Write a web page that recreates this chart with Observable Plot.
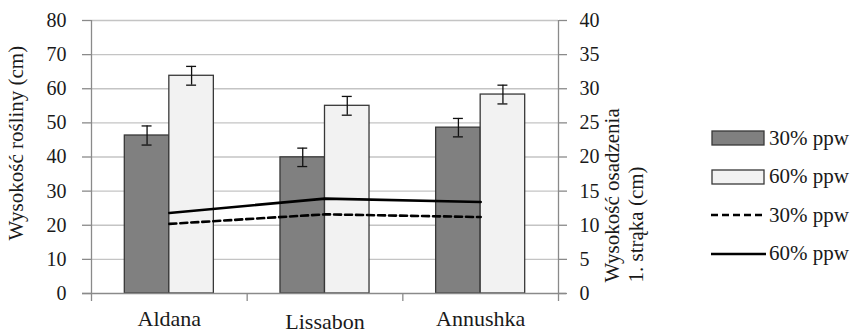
<!DOCTYPE html>
<html><head><meta charset="utf-8">
<script src="https://cdn.jsdelivr.net/npm/d3@7"></script>
<script src="https://cdn.jsdelivr.net/npm/@observablehq/plot@0.6"></script>
<style>
body{margin:0;background:#fff;font-family:"Liberation Serif","Times New Roman",Times,"DejaVu Serif",serif;}
#wrap{position:relative;width:864px;height:334px;overflow:hidden;}
#legend{position:absolute;left:711px;top:119px;}
.row{display:flex;align-items:center;height:38.5px;font-size:21px;color:#1a1a1a;white-space:nowrap;font-family:"Liberation Serif","Times New Roman",Times,"DejaVu Serif",serif;}
.row svg{margin-right:2px;display:block;}
#chart svg, #chart svg text{font-family:"Liberation Serif","Times New Roman",Times,"DejaVu Serif",serif !important;}
</style></head><body><div id="wrap"><div id="chart"></div><div id="legend"></div></div>
<script>
// ---- data ----
const categories = ["Aldana", "Lissabon", "Annushka"];
const seriesNames = ["30% ppw", "60% ppw"];
const plantHeight30 = [46.3, 39.9, 48.6];   // bars, left axis (cm)
const plantHeight60 = [63.8, 55.0, 58.3];
const plantErr30 = [2.8, 2.7, 2.7];
const plantErr60 = [2.75, 2.75, 2.75];
const podHeight30 = [10.2, 11.6, 11.2];     // lines, right axis (cm)
const podHeight60 = [11.8, 13.9, 13.4];
const leftTicks = [0, 10, 20, 30, 40, 50, 60, 70, 80];
const rightTicks = [0, 5, 10, 15, 20, 25, 30, 35, 40];
const leftTitle = "Wysokość rośliny (cm)";
const rightTitle = "Wysokość osadzenia\n1. strąka (cm)";

// ---- derived tables ----
const axisRatio = leftTicks[leftTicks.length - 1] / rightTicks[rightTicks.length - 1];
const barW = 0.286;
const bars = [];
categories.forEach((c, i) => {
  bars.push({cat: c, i, series: seriesNames[0], value: plantHeight30[i], err: plantErr30[i], x1: i - barW, x2: i});
  bars.push({cat: c, i, series: seriesNames[1], value: plantHeight60[i], err: plantErr60[i], x1: i, x2: i + barW});
});
bars.forEach(d => { d.xc = (d.x1 + d.x2) / 2; d.lo = d.value - d.err; d.hi = d.value + d.err; });
const line30 = categories.map((c, i) => ({i, value: podHeight30[i]}));
const line60 = categories.map((c, i) => ({i, value: podHeight60[i]}));
const boundaries = d3.range(-0.5, categories.length, 1);
const capW = 0.032;
const serif = "Liberation Serif, Times New Roman, Times, DejaVu Serif, serif";

const chart = Plot.plot({
  width: 700,
  height: 334,
  marginLeft: 91,
  marginRight: 142,
  marginTop: 20,
  marginBottom: 41,
  style: {fontFamily: serif, fontSize: "20px", color: "#1a1a1a", background: "#fff"},
  x: {domain: [-0.5, categories.length - 0.5], axis: null},
  y: {domain: [0, 80], axis: null},
  color: {domain: seriesNames, range: ["#808080", "#f2f2f2"]},
  marks: [
    Plot.gridY(leftTicks.filter(t => t > 0), {stroke: "#c4c4c4", strokeOpacity: 1, strokeWidth: 1.3}),
    Plot.rectY(bars, {x1: "x1", x2: "x2", y1: 0, y2: "value", fill: "series", stroke: "#383838", strokeWidth: 1.3}),
    Plot.ruleX(bars, {x: "xc", y1: "lo", y2: "hi", stroke: "#111", strokeWidth: 1.3}),
    Plot.ruleY(bars, {y: "hi", x1: d => d.xc - capW, x2: d => d.xc + capW, stroke: "#111", strokeWidth: 1.3}),
    Plot.ruleY(bars, {y: "lo", x1: d => d.xc - capW, x2: d => d.xc + capW, stroke: "#111", strokeWidth: 1.3}),
    Plot.lineY(line30, {x: "i", y: d => d.value * axisRatio, stroke: "#000", strokeWidth: 2.6, strokeDasharray: "7,4"}),
    Plot.lineY(line60, {x: "i", y: d => d.value * axisRatio, stroke: "#000", strokeWidth: 2.6}),
    // axes lines
    Plot.ruleX([-0.5, categories.length - 0.5], {stroke: "#8a8a8a", strokeWidth: 1.3}),
    Plot.ruleY([0], {stroke: "#8a8a8a", strokeWidth: 1.3, insetLeft: -9, insetRight: -8}),
    Plot.axisX({ticks: boundaries, tickSize: 8, tickFormat: () => "", stroke: "#8a8a8a", strokeWidth: 1.3}),
    Plot.axisX({ticks: [0, 2], tickSize: 0, tickPadding: 17, tickFormat: i => categories[i], fontSize: 22, fontFamily: serif, label: null}),
    Plot.axisX({ticks: [1], tickSize: 0, tickPadding: 20, tickFormat: i => categories[i], fontSize: 22, fontFamily: serif, label: null}),
    Plot.axisY({anchor: "left", ticks: leftTicks, tickSize: 9, tickPadding: 16, stroke: "#8a8a8a", strokeWidth: 1.3, fontSize: 20, fontFamily: serif, label: null}),
    Plot.axisY({anchor: "right", ticks: rightTicks.map(t => t * axisRatio), tickFormat: d => d / axisRatio, tickSize: 8, tickPadding: 13, stroke: "#8a8a8a", strokeWidth: 1.3, fontSize: 20, fontFamily: serif, label: null}),
    Plot.text([leftTitle], {frameAnchor: "bottom-left", rotate: -90, textAnchor: "start", dx: -69, dy: -53, fontSize: 21, fontFamily: serif}),
    Plot.text([rightTitle], {frameAnchor: "bottom-right", rotate: -90, textAnchor: "start", lineHeight: 1.1, dx: 84, dy: -11, fontSize: 21, fontFamily: serif})
  ]
});
document.getElementById("chart").appendChild(chart);

// ---- legend (HTML, right side) ----
const legendItems = [
  {label: seriesNames[0], kind: "box", fill: "#808080"},
  {label: seriesNames[1], kind: "box", fill: "#f2f2f2"},
  {label: seriesNames[0], kind: "line", dash: "7,4"},
  {label: seriesNames[1], kind: "line", dash: null}
];
const legend = document.getElementById("legend");
for (const it of legendItems) {
  const row = document.createElement("div");
  row.className = "row";
  const ns = "http://www.w3.org/2000/svg";
  const s = document.createElementNS(ns, "svg");
  s.setAttribute("width", 56); s.setAttribute("height", 18);
  if (it.kind === "box") {
    const r = document.createElementNS(ns, "rect");
    r.setAttribute("x", 1); r.setAttribute("y", 2); r.setAttribute("width", 52); r.setAttribute("height", 14);
    r.setAttribute("fill", it.fill); r.setAttribute("stroke", "#383838"); r.setAttribute("stroke-width", 1.3);
    s.appendChild(r);
  } else {
    const l = document.createElementNS(ns, "line");
    l.setAttribute("x1", 0); l.setAttribute("x2", 55); l.setAttribute("y1", 9); l.setAttribute("y2", 9);
    l.setAttribute("stroke", "#000"); l.setAttribute("stroke-width", 2.6);
    if (it.dash) l.setAttribute("stroke-dasharray", it.dash);
    s.appendChild(l);
  }
  row.appendChild(s);
  const t = document.createElement("span");
  t.textContent = it.label;
  row.appendChild(t);
  legend.appendChild(row);
}
</script></body></html>
